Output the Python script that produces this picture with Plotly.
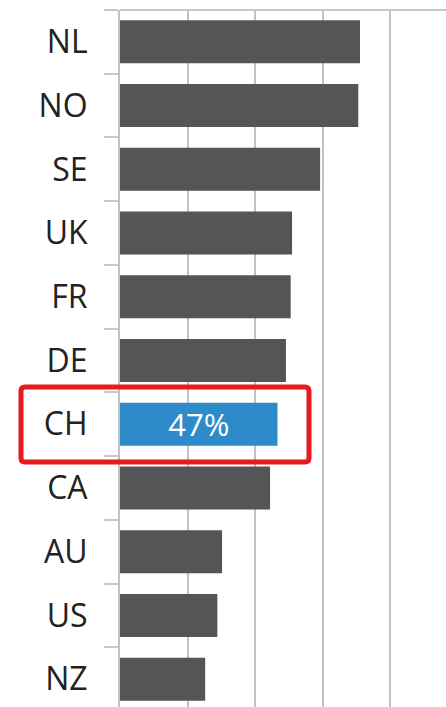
import plotly.graph_objects as go

countries = ["NL", "NO", "SE", "UK", "FR", "DE", "CH", "CA", "AU", "US", "NZ"]
values = [71.0, 70.5, 59.2, 50.9, 50.5, 49.1, 46.6, 44.4, 30.2, 28.8, 25.2]
highlight = "CH"
grid_ticks = [0, 20, 40, 60, 80]

GRAY = "#555557"
BLUE = "#2e8bc9"
colors = [BLUE if c == highlight else GRAY for c in countries]
texts = [f"{v:.0f}%" if c == highlight else "" for c, v in zip(countries, values)]

fig = go.Figure(go.Bar(
    y=countries, x=values, orientation="h",
    marker=dict(color=colors, line=dict(width=0)),
    text=texts, textposition="inside", insidetextanchor="middle",
    constraintext="none",
    textfont=dict(family="Open Sans", size=31, color="white"),
    cliponaxis=False,
))

W, H = 446, 711
L, R, T, B = 120, 0, 10, 0
pw, ph = W - L - R, H - T - B

def px_x(x):
    return (x - L) / pw

def px_y(y):
    return 1 - (y - T) / ph

# rounded red highlight box (pixel-based annotation frame)
x0, x1, y0, y1, r = 21, 309, 387, 462, 4
path = (
    f"M {px_x(x0 + r)},{px_y(y0)} L {px_x(x1 - r)},{px_y(y0)} "
    f"Q {px_x(x1)},{px_y(y0)} {px_x(x1)},{px_y(y0 + r)} "
    f"L {px_x(x1)},{px_y(y1 - r)} Q {px_x(x1)},{px_y(y1)} {px_x(x1 - r)},{px_y(y1)} "
    f"L {px_x(x0 + r)},{px_y(y1)} Q {px_x(x0)},{px_y(y1)} {px_x(x0)},{px_y(y1 - r)} "
    f"L {px_x(x0)},{px_y(y0 + r)} Q {px_x(x0)},{px_y(y0)} {px_x(x0 + r)},{px_y(y0)} Z"
)

fig.update_layout(
    width=W, height=H,
    margin=dict(l=L, r=R, t=T, b=B, pad=0),
    plot_bgcolor="white", paper_bgcolor="white",
    bargap=0.325, showlegend=False,
    xaxis=dict(range=[0, pw / 3.38], tickvals=grid_ticks, showticklabels=False,
               showgrid=True, gridcolor="#c2c2c2", gridwidth=2,
               zeroline=False, showline=False, fixedrange=True),
    yaxis=dict(autorange="reversed", type="category",
               ticks="outside", tickson="boundaries", ticklen=14,
               tickcolor="#c8c8c8", tickwidth=2,
               showline=True, linecolor="#c2c2c2", linewidth=2,
               showgrid=False, automargin=False,
               tickfont=dict(family="Open Sans", size=32, color="#222222"),
               ticklabelstandoff=24),
    shapes=[
        dict(type="line", xref="paper", yref="paper", x0=0, x1=1, y0=1, y1=1,
             line=dict(color="#c8c8c8", width=2)),
        dict(type="path", xref="paper", yref="paper", path=path,
             line=dict(color="#e8191f", width=5), layer="above"),
    ],
)

fig.write_html("out.html", config={"displayModeBar": False, "staticPlot": True},
               post_script="document.body.style.margin='0px';document.body.style.overflow='hidden';")
